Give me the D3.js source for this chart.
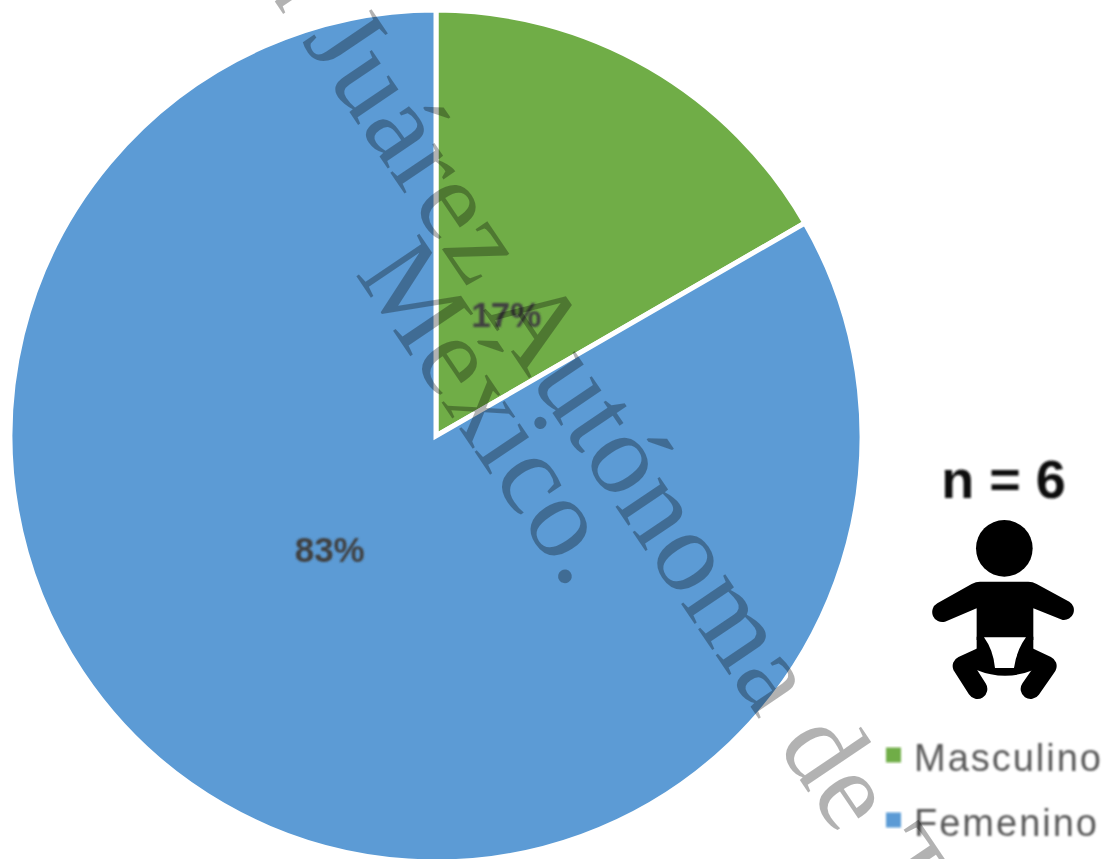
<!DOCTYPE html>
<html><head><meta charset="utf-8">
<script src="https://cdn.jsdelivr.net/npm/d3@7/dist/d3.min.js"></script>
<style>html,body{margin:0;padding:0;background:#fff;overflow:hidden}svg{display:block}</style>
</head><body><svg id="c" width="1107" height="859"></svg>
<script>
const categories = ["Masculino", "Femenino"];
const counts = [1, 5];
const percentLabels = ["17%", "83%"];
const colours = ["#70AD47", "#5B9BD5"];
const sampleLabel = "n = 6";
const watermarkLines = ["Universidad Juárez Autónoma de Tabasco.", "México."];

const W = 1107, H = 859, cx = 436, cy = 436, R = 426;
const svg = d3.select("#c");
const defs = svg.append("defs");
defs.append("filter").attr("id","soft").append("feGaussianBlur").attr("stdDeviation",1.2);
defs.append("filter").attr("id","soft2").append("feGaussianBlur").attr("stdDeviation",0.9);
defs.append("filter").attr("id","edge").append("feGaussianBlur").attr("stdDeviation",0.7);

const pie = d3.pie().sort(null).value(d => d);
const arc = d3.arc().innerRadius(0).outerRadius(R);
const g = svg.append("g").attr("transform",`translate(${cx},${cy})`);
const arcs = pie(counts);
g.selectAll("path").data(arcs).join("path")
  .attr("d",arc).attr("fill",(d,i)=>colours[i])
  .attr("stroke","#fff").attr("stroke-width",5).attr("stroke-linejoin","miter")
  .attr("filter","url(#edge)");

const labelArc = d3.arc().innerRadius(R*0.33).outerRadius(R*0.33);
const labelShift = [[0,0],[-36,-8]];
g.selectAll("text").data(arcs).join("text")
  .attr("transform",(d,i)=>{const c=labelArc.centroid(d);return `translate(${c[0]+labelShift[i][0]},${c[1]+labelShift[i][1]})`;})
  .attr("text-anchor","middle").attr("dy","0.36em")
  .attr("font-family","Liberation Sans").attr("font-weight","bold").attr("font-size",35)
  .attr("fill","#404040").attr("filter","url(#soft)")
  .text((d,i)=>percentLabels[i]);

svg.append("text").attr("x",1003.5).attr("y",498).attr("text-anchor","middle")
  .attr("font-family","Liberation Sans").attr("font-weight","bold").attr("font-size",54)
  .attr("fill","#111").attr("filter","url(#soft2)").text(sampleLabel);

const baby = svg.append("g").attr("transform","translate(880,440) scale(0.3333)").attr("filter","url(#soft2)");
baby.append("circle").attr("cx",373).attr("cy",325).attr("r",85).attr("fill","#000");
baby.append("path").attr("fill","#000")
  .attr("d","M300 425H445Q458 425 470 432L568 485A30 30 0 0 1 548 540L460 505V600H290V505L195 545A30 30 0 0 1 172 490L275 432Q288 425 300 425Z");
baby.append("path").attr("fill","none").attr("stroke","#000").attr("stroke-width",60).attr("stroke-linecap","round").attr("stroke-linejoin","round")
  .attr("d","M320 645L248 678L292 747M430 645L500 678L452 747");
baby.append("path").attr("fill","#000").attr("d","M290 590H460V690Q375 725 290 690Z");
baby.append("path").attr("fill","#fff").attr("d","M312 592H438Q410 630 402 684H345Q340 630 312 592Z");

const legend = svg.append("g").selectAll("g").data(categories).join("g")
  .attr("transform",(d,i)=>`translate(0,${755+i*65})`);
legend.append("rect").attr("x",886).attr("y",-7.5).attr("width",15).attr("height",15)
  .attr("fill",(d,i)=>colours[i]).attr("filter","url(#soft2)");
legend.append("text").attr("x",914).attr("y",16).attr("font-family","Liberation Sans")
  .attr("font-size",38).attr("fill","#595959").attr("filter","url(#soft)").attr("textLength",(d,i)=>i?183:187)
  .text(d=>d);

const wm = svg.append("g").attr("transform","translate(524,371) rotate(56)")
  .attr("font-family","Liberation Serif").attr("font-size",116).attr("fill","#000").attr("fill-opacity",0.3).attr("text-anchor","middle");
wm.selectAll("text").data(watermarkLines).join("text").attr("x",(d,i)=>i*16).attr("y",(d,i)=>i*86)
  .attr("letter-spacing",(d,i)=>i?0:0.8).text(d=>d);
</script></body></html>
